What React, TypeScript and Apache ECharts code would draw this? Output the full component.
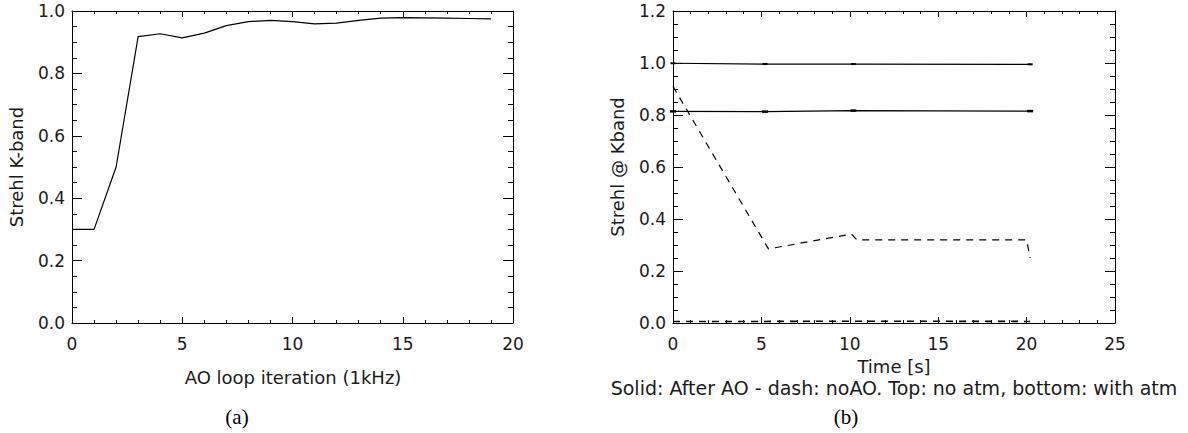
import React, { useEffect, useRef } from "react";
import * as echarts from "echarts";

// ---- Data (a): Strehl vs AO loop iteration ----
const iterX = [0, 1, 2, 3, 4, 5, 6, 7, 8, 9, 10, 11, 12, 13, 14, 15, 16, 17, 18, 19];
const strehlK = [0.30, 0.30, 0.50, 0.918, 0.927, 0.914, 0.929, 0.953, 0.966, 0.970, 0.966, 0.959, 0.961, 0.970, 0.977, 0.979, 0.978, 0.977, 0.976, 0.975];

// ---- Data (b): Strehl vs time ----
const solidT = [0, 5.2, 10.2, 20.2];
const solidTopNoAtm = [0.999, 0.996, 0.996, 0.995];
const solidBottomAtm = [0.814, 0.813, 0.817, 0.815];
const dashTopT = [0, 5.4, 10.1, 10.4, 20.0, 20.2];
const dashTopNoAtm = [0.91, 0.285, 0.342, 0.32, 0.32, 0.25];
const dashBottomT = [0, 5.2, 10.2, 20.2];
const dashBottomAtm = [0.006, 0.006, 0.007, 0.006];

const leftXTicks = { min: 0, max: 20, interval: 5 };
const leftYTicks = { min: 0, max: 1.0, interval: 0.2 };
const rightXTicks = { min: 0, max: 25, interval: 5 };
const rightYTicks = { min: 0, max: 1.2, interval: 0.2 };

const FONT = "DejaVu Sans";
const INK = "#1a1a1a";

function pairs(xs: number[], ys: number[]) {
  return xs.map((x, i) => [x, ys[i]]);
}

function xAxisPair(gridIndex: number, t: { min: number; max: number; interval: number }) {
  const base = {
    type: "value" as const,
    gridIndex,
    min: t.min,
    max: t.max,
    interval: t.interval,
    splitLine: { show: false },
    axisLine: { show: true, onZero: false, lineStyle: { color: "#000", width: 1 } },
    axisTick: { show: true, inside: true, length: 6, lineStyle: { color: "#000", width: 1 } },
    minorTick: { show: true, splitNumber: 5, length: 3, lineStyle: { color: "#000", width: 1 } },
  };
  return [
    {
      ...base,
      position: "bottom",
      axisLabel: { show: true, color: INK, fontSize: 17, fontFamily: FONT, margin: 12, formatter: (v: number) => String(Math.round(v)) },
    },
    { ...base, position: "top", axisLabel: { show: false } },
  ];
}

function yAxisPair(gridIndex: number, t: { min: number; max: number; interval: number }) {
  const base = {
    type: "value" as const,
    gridIndex,
    min: t.min,
    max: t.max,
    interval: t.interval,
    splitLine: { show: false },
    axisLine: { show: true, onZero: false, lineStyle: { color: "#000", width: 1 } },
    axisTick: { show: true, inside: true, length: 10, lineStyle: { color: "#000", width: 1 } },
    minorTick: { show: true, splitNumber: 4, length: 5, lineStyle: { color: "#000", width: 1 } },
  };
  return [
    {
      ...base,
      position: "left",
      axisLabel: { show: true, color: INK, fontSize: 17, fontFamily: FONT, margin: 7, formatter: (v: number) => v.toFixed(1) },
    },
    { ...base, position: "right", axisLabel: { show: false } },
  ];
}

export default function App() {
  const ref = useRef<HTMLDivElement>(null);

  useEffect(() => {
    if (!ref.current) return;
    const chart = echarts.init(ref.current, undefined, { renderer: "svg" });

    const titleStyle = { fill: INK, fontSize: 18, fontFamily: FONT, textAlign: "center", textVerticalAlign: "middle" };
    const capStyle = { fill: "#000", fontSize: 21, fontFamily: "Liberation Serif", textAlign: "center", textVerticalAlign: "middle" };

    const option: any = {
      animation: false,
      backgroundColor: "#fff",
      grid: [
        { left: 72, top: 11, width: 441, height: 312, containLabel: false },
        { left: 673, top: 11, width: 442, height: 312, containLabel: false },
      ],
      xAxis: [...xAxisPair(0, leftXTicks), ...xAxisPair(1, rightXTicks)],
      yAxis: [...yAxisPair(0, leftYTicks), ...yAxisPair(1, rightYTicks)],
      series: [
        {
          type: "line",
          xAxisIndex: 0,
          yAxisIndex: 0,
          data: pairs(iterX, strehlK),
          showSymbol: false,
          symbol: "none",
          lineStyle: { color: "#000", width: 1.2 },
        },
        {
          type: "line",
          xAxisIndex: 2,
          yAxisIndex: 2,
          data: pairs(solidT, solidTopNoAtm),
          symbol: "rect",
          symbolSize: [5, 2],
          itemStyle: { color: "#000" },
          lineStyle: { color: "#000", width: 1.2 },
        },
        {
          type: "line",
          xAxisIndex: 2,
          yAxisIndex: 2,
          data: pairs(solidT, solidBottomAtm),
          symbol: "rect",
          symbolSize: [6, 2.5],
          itemStyle: { color: "#000" },
          lineStyle: { color: "#000", width: 1.2 },
        },
        {
          type: "line",
          xAxisIndex: 2,
          yAxisIndex: 2,
          data: pairs(dashTopT, dashTopNoAtm),
          symbol: "none",
          lineStyle: { color: "#000", width: 1.2, type: [7, 6] },
        },
        {
          type: "line",
          xAxisIndex: 2,
          yAxisIndex: 2,
          data: pairs(dashBottomT, dashBottomAtm),
          symbol: "none",
          lineStyle: { color: "#000", width: 1.6, type: [7, 6] },
        },
      ],
      graphic: [
        { type: "text", x: 16, y: 167, rotation: Math.PI / 2, style: { ...titleStyle, text: "Strehl K-band" } },
        { type: "text", x: 293, y: 377, style: { ...titleStyle, text: "AO loop iteration (1kHz)" } },
        { type: "text", x: 617, y: 167, rotation: Math.PI / 2, style: { ...titleStyle, text: "Strehl @ Kband" } },
        { type: "text", x: 894, y: 366, style: { ...titleStyle, text: "Time [s]" } },
        { type: "text", x: 894, y: 388, style: { ...titleStyle, fontSize: 19, text: "Solid: After AO - dash: noAO. Top: no atm, bottom: with atm" } },
        { type: "text", x: 237, y: 417, style: { ...capStyle, text: "(a)" } },
        { type: "text", x: 846, y: 417, style: { ...capStyle, text: "(b)" } },
      ],
    };

    chart.setOption(option);
    return () => chart.dispose();
  }, []);

  return (
    <div
      ref={ref}
      style={{ position: "fixed", left: 0, top: 0, width: 1188, height: 433, background: "#fff" }}
    />
  );
}
